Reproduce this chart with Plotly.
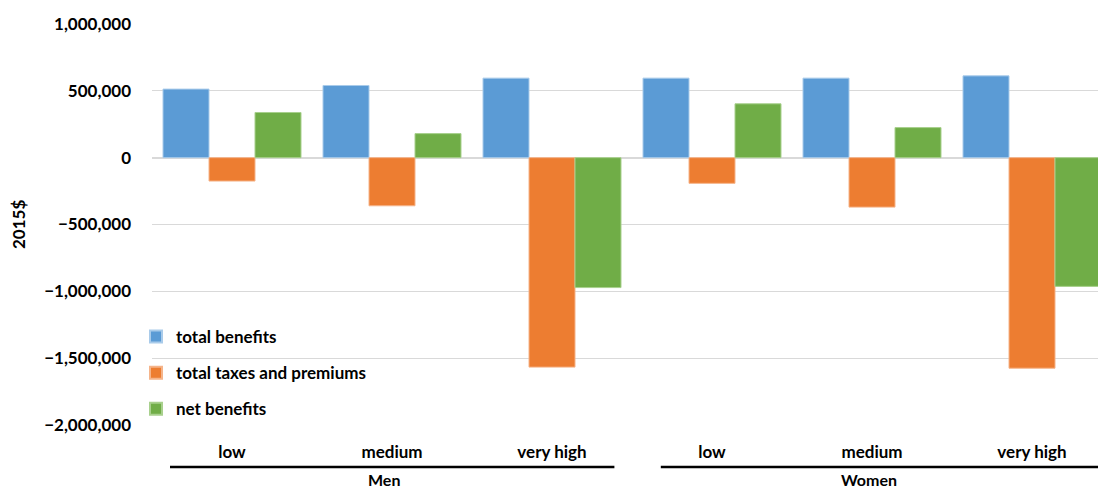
import plotly.graph_objects as go

categories = ["low", "medium", "very high", "low", "medium", "very high"]
groups = ["Men", "Women"]
total_benefits = [513000, 540000, 595000, 595000, 595000, 612000]
total_taxes = [-175000, -360000, -1567000, -192000, -370000, -1575000]
net_benefits = [338000, 180000, -972000, 403000, 225000, -963000]
y_ticks = [1000000, 500000, 0, -500000, -1000000, -1500000, -2000000]

FONT = "Lato"
x = list(range(len(categories)))

fig = go.Figure()
series = [
    ("total benefits", total_benefits, "#5B9BD5", "#A9CBEA"),
    ("total taxes and premiums", total_taxes, "#ED7D31", "#F5B48A"),
    ("net benefits", net_benefits, "#70AD47", "#A8D08D"),
]
for i, (name, vals, col, lc) in enumerate(series):
    fig.add_trace(go.Bar(
        x=x, y=vals, name=name, legendgroup=f"g{i}",
        marker=dict(color=col, line=dict(color=lc, width=1)),
    ))

H = 401.0  # plot height in px
TOP = 24.0

def py(pix):
    return (TOP + H - pix) / H

fig.update_layout(
    width=1098, height=489,
    margin=dict(l=152, r=0, t=24, b=64),
    barmode="group", bargap=0.1375, bargroupgap=0,
    plot_bgcolor="white", paper_bgcolor="white",
    font=dict(family=FONT, size=17, color="black"),
    showlegend=True,
    legend=dict(x=-16 / 946, y=py(319), xanchor="left", yanchor="top",
                bgcolor="rgba(0,0,0,0)", tracegroupgap=11,
                font=dict(family=FONT, size=17, color="black", weight="bold"),
                itemsizing="constant"),
)
fig.update_xaxes(
    range=[-0.5, 5.4125], tickvals=x, ticktext=categories,
    showgrid=False, zeroline=False, showline=False, ticks="",
    ticklabelstandoff=15,
    tickfont=dict(family=FONT, size=17, weight="bold", color="black"),
)
fig.update_yaxes(
    range=[-2000000, 1000000], tickvals=y_ticks,
    tickformat=",d", showgrid=True, gridcolor="#D9D9D9", gridwidth=1,
    zeroline=True, zerolinecolor="#D9D9D9", zerolinewidth=2,
    showline=False, ticks="", ticklabelstandoff=20,
    tickfont=dict(family=FONT, size=17, weight="bold", color="black"),
)

# y-axis title
fig.add_annotation(text="<b>2015$</b>", textangle=-90, xref="paper", yref="paper",
                   x=(18 - 152) / 946, y=py(225), xanchor="center", yanchor="middle",
                   showarrow=False, font=dict(family=FONT, size=17, color="black"))

# group lines and labels
group_spans = [(-0.3875, 2.39), (2.68, 5.45)]
for a, b in group_spans:
    fig.add_shape(type="line", xref="x", yref="paper", x0=a, x1=b,
                  y0=py(467), y1=py(467),
                  line=dict(color="black", width=2.5))
for g, cx in zip(groups, [0.95, 3.98]):
    fig.add_annotation(text=f"<b>{g}</b>", xref="x", yref="paper", x=cx,
                       y=py(479), xanchor="center", yanchor="middle", showarrow=False,
                       font=dict(family=FONT, size=16, color="black"))

fig.write_html("out.html")
